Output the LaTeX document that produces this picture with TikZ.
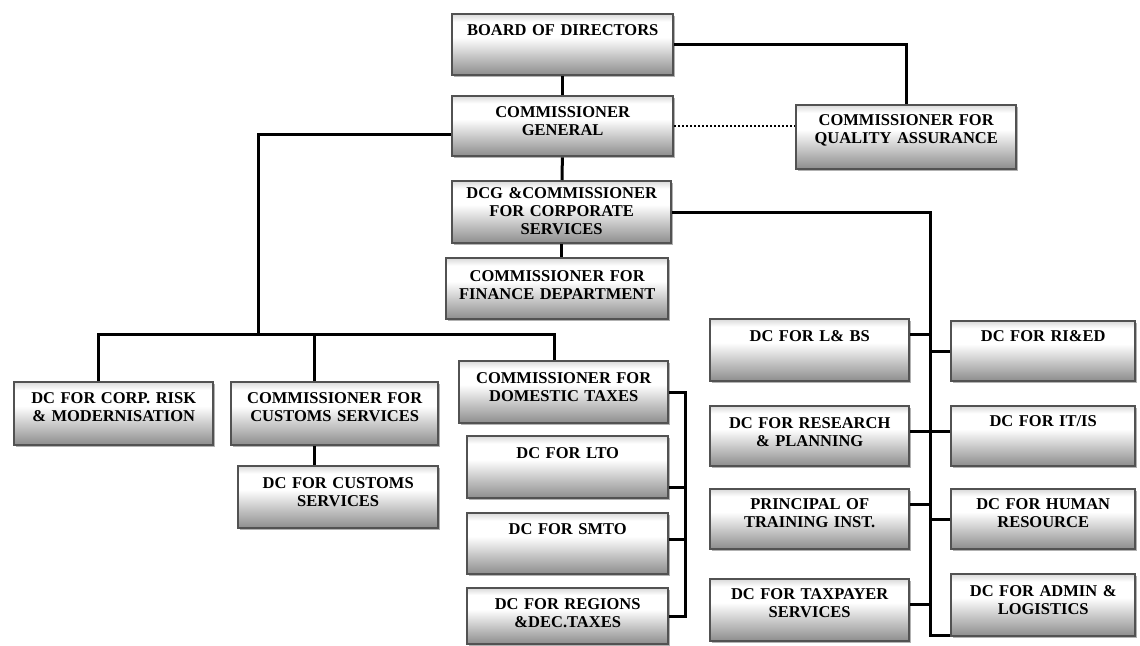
\documentclass[tikz,border=0pt]{standalone}
\usepackage{fontspec}
\setmainfont{Liberation Serif}
\usepackage{tikz}
\usetikzlibrary{shadows}

\definecolor{boxline}{RGB}{82,82,82}
\definecolor{boxbot}{RGB}{140,140,140}
\definecolor{boxtop}{RGB}{218,218,218}
\pgfdeclareverticalshading{unitshade}{100bp}{color(0bp)=(boxbot); color(25bp)=(boxbot);
    color(56bp)=(white); color(69bp)=(white); color(75bp)=(boxtop); color(100bp)=(boxtop)}

\begin{document}
\begin{tikzpicture}[x=1pt, y=-1pt,
    unit/.style={draw=boxline, line width=2.4pt, shading=unitshade,
        anchor=north west, align=center, inner xsep=0pt, inner ysep=0pt,
        text height=21pt, text depth=40pt,
        font=\bfseries\fontsize{16.5}{18}\selectfont,
        drop shadow={shadow xshift=2pt, shadow yshift=-2pt, opacity=.3, fill=black}},
    link/.style={line width=3pt}]
    \useasboundingbox (0,0) rectangle (1140,645);

    \node[unit, text width=221pt] (bod) at (451,13) {BOARD OF DIRECTORS};
    \node[unit, text width=221pt, text depth=39pt] (cg) at (451,95) {COMMISSIONER\\GENERAL};
    \node[unit, text width=220pt, text height=20pt, text depth=44pt] (qa) at (795,104) {COMMISSIONER FOR\\QUALITY ASSURANCE};
    \node[unit, text width=219pt, text height=17pt, text depth=45pt] (dcg) at (451,180) {DCG \&COMMISSIONER\\FOR CORPORATE\\SERVICES};
    \node[unit, text width=222pt, text height=23pt, text depth=38pt] (fin) at (445,257) {COMMISSIONER FOR\\FINANCE DEPARTMENT};

    \node[unit, text width=199pt, text depth=42pt] (risk) at (13,381) {DC FOR CORP. RISK\\\& MODERNISATION};
    \node[unit, text width=207pt, text depth=42pt] (cus) at (230,381) {COMMISSIONER FOR\\CUSTOMS SERVICES};
    \node[unit, text width=200pt, text height=22pt] (dcc) at (237,465) {DC FOR CUSTOMS\\SERVICES};

    \node[unit, text width=209pt, text height=22pt] (dt) at (458,360) {COMMISSIONER FOR\\DOMESTIC TAXES};
    \node[unit, text width=201pt, text height=22pt] (lto) at (466,435) {DC FOR LTO};
    \node[unit, text width=201pt] (smto) at (466,512) {DC FOR SMTO};
    \node[unit, text width=201pt, text depth=35pt] (reg) at (466,587) {DC FOR REGIONS\\\&DEC.TAXES};

    \node[unit, text width=199pt, text height=22pt] (lbs) at (709,318) {DC FOR L\& BS};
    \node[unit, text width=199pt, text height=22pt, text depth=38pt] (res) at (709,405) {DC FOR RESEARCH\\\& PLANNING};
    \node[unit, text width=199pt, text height=20pt] (prin) at (709,488) {PRINCIPAL OF\\TRAINING INST.};
    \node[unit, text width=199pt, text height=20pt, text depth=42pt] (tax) at (709,578) {DC FOR TAXPAYER\\SERVICES};

    \node[unit, text width=184pt, text height=20pt] (ried) at (950,320) {DC FOR RI\&ED};
    \node[unit, text width=184pt, text height=20pt] (itis) at (950,405) {DC FOR IT/IS};
    \node[unit, text width=184pt, text height=20pt] (hr) at (950,488) {DC FOR HUMAN\\RESOURCE};
    \node[unit, text width=184pt, text height=22pt] (adm) at (950,573) {DC FOR ADMIN \&\\LOGISTICS};

    \coordinate (spine) at (258,334);
    \coordinate (dtrail) at (685,0);
    \coordinate (rail) at (930,0);

    \draw[link] (bod) -- (cg);
    \draw[link] (cg) -- (dcg);
    \draw[link] (dcg.south) -- (dcg.south |- fin.north);
    \draw[link] (bod.east) -| (qa.north);
    \draw[line width=2pt, dotted] (cg.east) -- (cg.east -| qa.west);

    \draw[link] ([yshift=-8pt]cg.west) -| (spine);
    \draw[link] ([xshift=-15pt]risk.north) |- (spine) -| ([xshift=-9pt]dt.north);
    \draw[link] ([xshift=-20pt]cus.north) -- ([xshift=-20pt]cus.north |- spine);
    \draw[link] ([xshift=-20pt]cus.south) -- ([xshift=-20pt]cus.south |- dcc.north);

    \draw[link] (dt.east) -| (dtrail |- reg.east) -- (reg.east);
    \draw[link] ([yshift=-20pt]lto.east) -- ([yshift=-20pt]lto.east -| dtrail);
    \draw[link] ([yshift=4pt]smto.east) -- ([yshift=4pt]smto.east -| dtrail);

    \draw[link] (dcg.east) -| ([yshift=2pt]adm.south west -| rail) -- ([yshift=2pt]adm.south west);
    \draw[link] ([yshift=16pt]lbs.east) -- ([yshift=16pt]lbs.east -| rail);
    \draw[link] (ried.west) -- (ried.west -| rail);
    \draw[link] ([yshift=5pt]res.east) -- ([yshift=5pt]res.east -| rail);
    \draw[link] ([yshift=5pt]itis.west) -- ([yshift=5pt]itis.west -| rail);
    \draw[link] ([yshift=15pt]prin.east) -- ([yshift=15pt]prin.east -| rail);
    \draw[link] (hr.west) -- (hr.west -| rail);
    \draw[link] ([yshift=6pt]tax.east) -- ([yshift=6pt]tax.east -| rail);
\end{tikzpicture}
\end{document}
